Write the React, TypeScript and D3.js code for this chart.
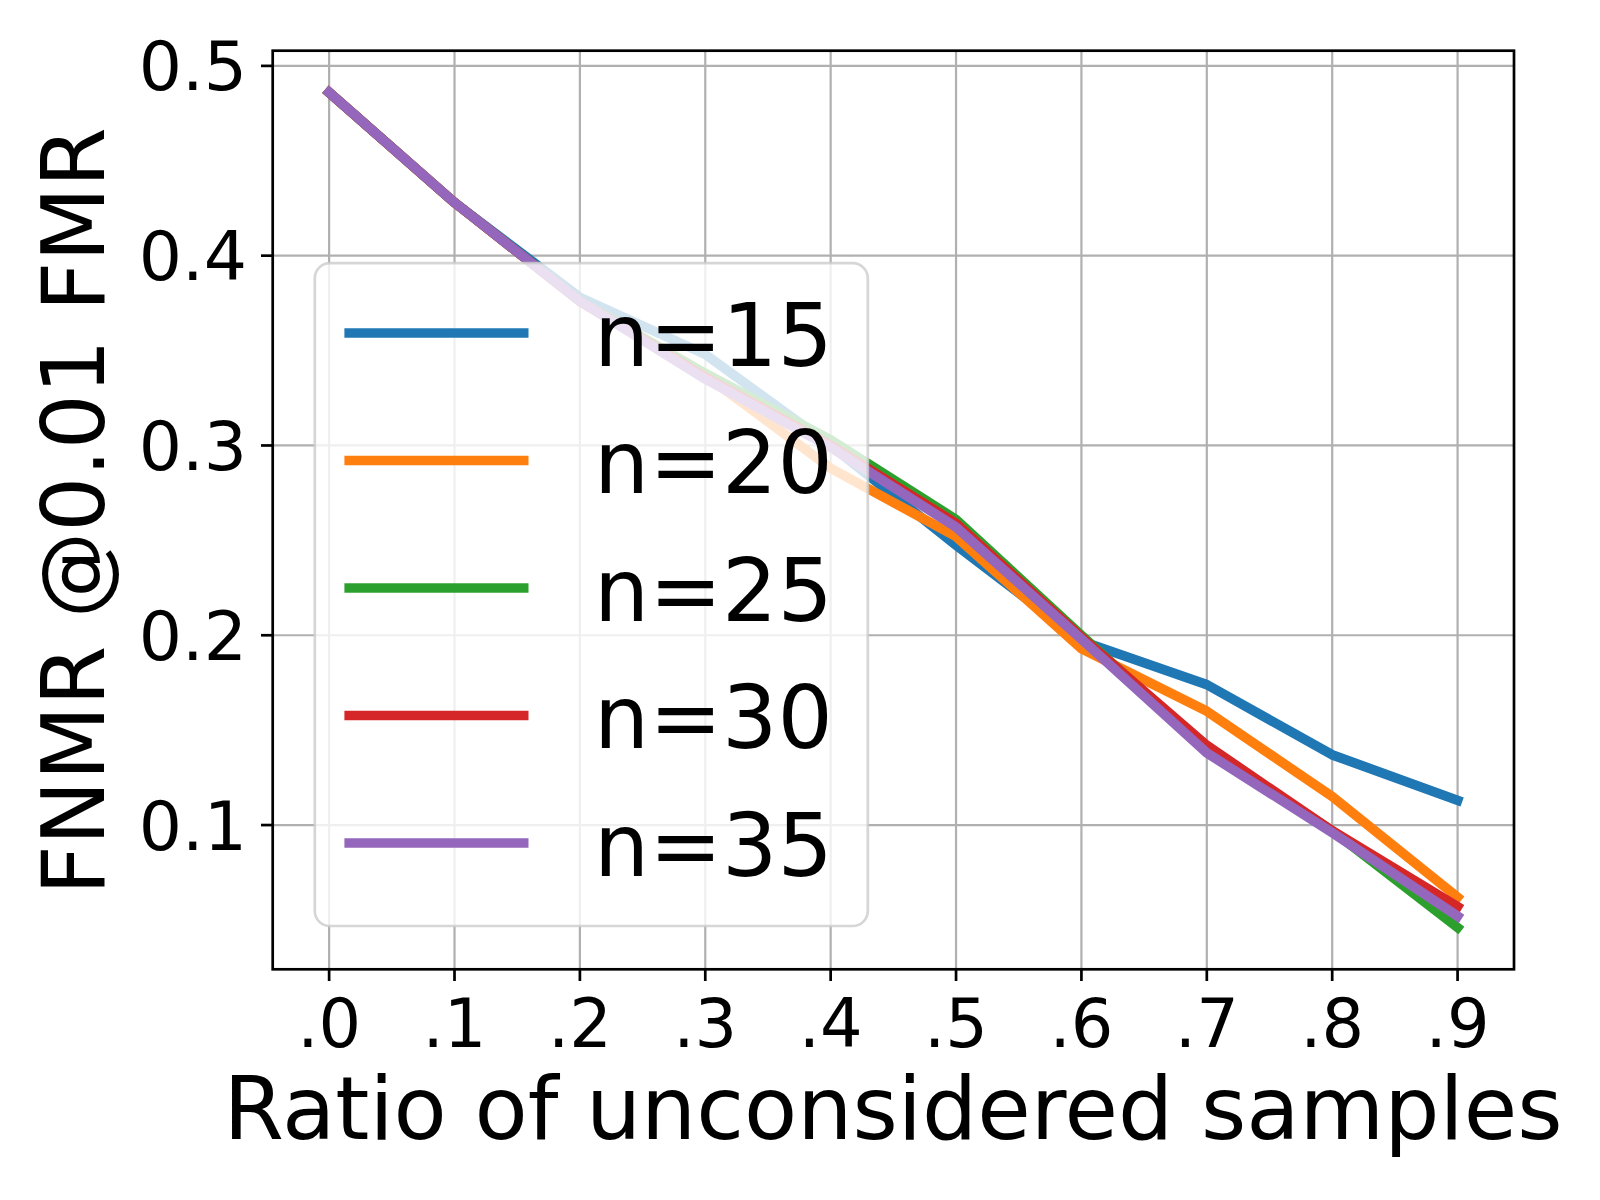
import React, { useEffect, useRef } from "react";
import * as d3 from "d3";

const ratios = [0, 0.1, 0.2, 0.3, 0.4, 0.5, 0.6, 0.7, 0.8, 0.9];
const xTickLabels = [".0", ".1", ".2", ".3", ".4", ".5", ".6", ".7", ".8", ".9"];
const yTicks = [0.1, 0.2, 0.3, 0.4, 0.5];

const n15 = [0.486, 0.428, 0.378, 0.348, 0.3, 0.2475, 0.197, 0.174, 0.137, 0.113];
const n20 = [0.486, 0.428, 0.376, 0.337, 0.288, 0.252, 0.193, 0.16, 0.115, 0.062];
const n25 = [0.486, 0.428, 0.376, 0.338, 0.303, 0.261, 0.2, 0.14, 0.097, 0.046];
const n30 = [0.486, 0.428, 0.376, 0.336, 0.3, 0.259, 0.199, 0.142, 0.097, 0.057];
const n35 = [0.486, 0.428, 0.376, 0.335, 0.299, 0.257, 0.198, 0.138, 0.096, 0.052];

const seriesNames = ["n=15", "n=20", "n=25", "n=30", "n=35"];
const seriesValues = [n15, n20, n25, n30, n35];
const colors = ["#1f77b4", "#ff7f0e", "#2ca02c", "#d62728", "#9467bd"];

const W = 1600;
const H = 1200;
const FONT = "DejaVu Sans, sans-serif";

const App: React.FC = () => {
    const svgRef = useRef<SVGSVGElement | null>(null);

    useEffect(() => {
        if (!svgRef.current) return;
        const svg = d3.select(svgRef.current);
        svg.selectAll("*").remove();

        const left = 272.7, right = 1514, top = 50.7, bottom = 969.3;

        // matplotlib style 5% margins
        const x = d3.scaleLinear().domain([-0.045, 0.945]).range([left, right]);
        const allVals = seriesValues.flat();
        const yMin = d3.min(allVals) as number;
        const yMax = d3.max(allVals) as number;
        const pad = (yMax - yMin) * 0.05;
        const y = d3.scaleLinear().domain([yMin - pad, yMax + pad]).range([bottom, top]);

        svg.append("rect").attr("width", W).attr("height", H).attr("fill", "#fff");

        // grid
        const grid = svg.append("g").attr("stroke", "#b0b0b0").attr("stroke-width", 2.2);
        grid.selectAll("line.gx")
            .data(ratios)
            .enter()
            .append("line")
            .attr("x1", d => x(d)).attr("x2", d => x(d))
            .attr("y1", top).attr("y2", bottom);
        grid.selectAll("line.gy")
            .data(yTicks)
            .enter()
            .append("line")
            .attr("x1", left).attr("x2", right)
            .attr("y1", d => y(d)).attr("y2", d => y(d));

        // series lines
        const line = d3.line<number>()
            .x((_, i) => x(ratios[i]))
            .y(d => y(d));

        svg.append("g")
            .selectAll("path")
            .data(seriesValues)
            .enter()
            .append("path")
            .attr("d", d => line(d) as string)
            .attr("fill", "none")
            .attr("stroke", (_, i) => colors[i])
            .attr("stroke-width", 9.7)
            .attr("stroke-linejoin", "round")
            .attr("stroke-linecap", "square");

        // frame
        svg.append("rect")
            .attr("x", left).attr("y", top)
            .attr("width", right - left).attr("height", bottom - top)
            .attr("fill", "none").attr("stroke", "#000").attr("stroke-width", 2.7);

        // x ticks
        const xt = svg.append("g");
        xt.selectAll("line")
            .data(ratios)
            .enter()
            .append("line")
            .attr("x1", d => x(d)).attr("x2", d => x(d))
            .attr("y1", bottom).attr("y2", bottom + 11.7)
            .attr("stroke", "#000").attr("stroke-width", 2.7);
        xt.selectAll("text")
            .data(ratios)
            .enter()
            .append("text")
            .attr("x", d => x(d))
            .attr("y", 1046.7)
            .attr("text-anchor", "middle")
            .attr("font-family", FONT)
            .attr("font-size", 67)
            .text((_, i) => xTickLabels[i]);

        // y ticks
        const yt = svg.append("g");
        yt.selectAll("line")
            .data(yTicks)
            .enter()
            .append("line")
            .attr("x1", left - 11.7).attr("x2", left)
            .attr("y1", d => y(d)).attr("y2", d => y(d))
            .attr("stroke", "#000").attr("stroke-width", 2.7);
        yt.selectAll("text")
            .data(yTicks)
            .enter()
            .append("text")
            .attr("x", 247)
            .attr("y", d => y(d) + 24.5)
            .attr("text-anchor", "end")
            .attr("font-family", FONT)
            .attr("font-size", 68)
            .text(d => d3.format(".1f")(d));

        // axis labels
        svg.append("text")
            .attr("x", 893).attr("y", 1139)
            .attr("text-anchor", "middle")
            .attr("font-family", FONT)
            .attr("font-size", 87)
            .text("Ratio of unconsidered samples");
        svg.append("text")
            .attr("transform", `translate(104, ${(top + bottom) / 2 + 1}) rotate(-90)`)
            .attr("text-anchor", "middle")
            .attr("font-family", FONT)
            .attr("font-size", 86.5)
            .text("FNMR @0.01 FMR");

        // legend
        const lg = svg.append("g");
        lg.append("rect")
            .attr("x", 314.8).attr("y", 263.2)
            .attr("width", 553).attr("height", 662.8)
            .attr("rx", 15).attr("ry", 15)
            .attr("fill", "#fff").attr("fill-opacity", 0.8)
            .attr("stroke", "#cccccc").attr("stroke-opacity", 0.8)
            .attr("stroke-width", 2.7);
        const items = lg.selectAll("g.item")
            .data(seriesNames)
            .enter()
            .append("g")
            .attr("transform", (_, i) => `translate(0, ${333 + i * 127.5})`);
        items.append("line")
            .attr("x1", 344.4).attr("x2", 528.5)
            .attr("y1", 0).attr("y2", 0)
            .attr("stroke", (_, i) => colors[i])
            .attr("stroke-width", 9.7);
        items.append("text")
            .attr("x", 594).attr("y", 32.5)
            .attr("font-family", FONT)
            .attr("font-size", 87)
            .text(d => d);
    }, []);

    return (
        <svg
            ref={svgRef}
            width={W}
            height={H}
            style={{ position: "absolute", left: 0, top: 0, display: "block" }}
        />
    );
};

export default App;
